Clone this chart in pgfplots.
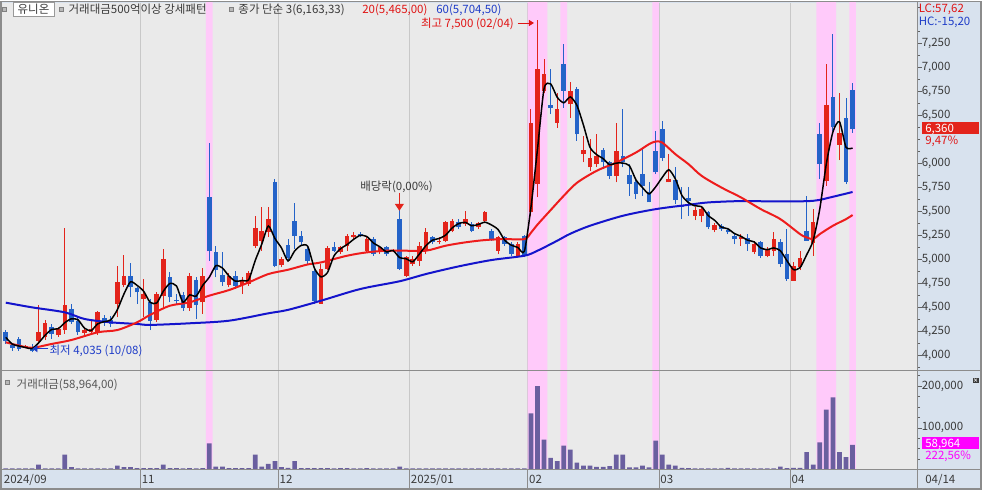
\documentclass[border=0pt]{standalone}
\usepackage{pgfplots}
\usepackage{pgfplotstable}
\pgfplotsset{compat=1.18}
\usepackage{fontspec}
\setmainfont{Noto Sans CJK KR}
\usetikzlibrary{arrows.meta}

\definecolor{plotBg}{HTML}{EAEAEA}
\definecolor{panelBg}{HTML}{D8E2EE}
\definecolor{gridC}{HTML}{C8C8C8}
\definecolor{frameC}{HTML}{8C8C8C}
\definecolor{upC}{HTML}{E3241B}
\definecolor{dnC}{HTML}{2463C8}
\definecolor{ma20C}{HTML}{EE1C1C}
\definecolor{ma60C}{HTML}{1414CC}
\definecolor{volC}{HTML}{6A5F9F}
\definecolor{hiliteC}{HTML}{FFCAFA}
\definecolor{txtC}{HTML}{3A3A3A}
\definecolor{redT}{HTML}{E01414}
\definecolor{blueT}{HTML}{1E3CC8}
\definecolor{magC}{HTML}{FF00FF}

\newcommand\tf{\fontsize{11.5}{13}\selectfont}

% rising days (red): index, open, high, low, close
\pgfplotstableread{
i O H L C
3 4085 4115 4075 4105
5 4156 4530 4140 4250
6 4191 4371 4163 4344
8 4215 4295 4198 4274
9 4271 5325 4226 4531
12 4236 4295 4219 4267
13 4243 4364 4219 4274
14 4243 4469 4219 4451
17 4538 4937 4399 4770
18 4739 5051 4711 4826
21 4590 4798 4399 4642
23 4371 4659 4347 4642
24 4625 5110 4486 5006
28 4496 4857 4469 4833
30 4555 4912 4434 4833
34 4739 4857 4711 4833
36 4739 4815 4642 4788
37 4746 4885 4729 4857
38 5145 5457 5121 5329
39 5197 5544 5093 5301
40 5284 5544 5239 5422
42 4940 5023 4919 5006
48 4538 4954 4538 4902
49 4902 5145 4890 5121
51 5076 5145 5058 5128
52 5145 5266 5093 5249
53 5232 5284 5214 5260
55 5093 5232 5076 5214
57 5076 5145 5058 5128
59 5086 5110 5076 5100
61 4833 5041 4815 5023
62 4954 5041 4937 5006
63 4989 5180 4937 5145
64 5093 5330 5058 5284
66 5180 5240 5160 5197
67 5197 5400 5180 5388
68 5301 5420 5284 5405
70 5370 5510 5353 5422
72 5336 5395 5318 5377
73 5405 5510 5388 5492
75 5093 5249 5058 5232
78 5041 5180 5023 5162
80 5492 6567 5450 6428
81 5787 7500 5648 6983
82 6758 7088 6740 6931
84 6428 6740 6376 6567
86 6620 6850 6480 6760
88 6098 6290 6012 6140
89 5960 6255 5925 6064
90 5995 6307 5960 6081
93 5873 6428 5804 6133
101 5804 6098 5804 5838
105 5457 5544 5412 5516
106 5457 5550 5388 5527
108 5308 5380 5284 5364
112 5214 5266 5145 5232
114 5076 5197 5058 5162
116 5041 5128 5023 5110
117 5093 5284 5041 5214
120 4781 4971 4781 4937
121 4926 5093 4891 5016
123 5169 5526 5041 5388
125 5821 7042 5769 6612
127 6196 6740 6036 6320
}\upk

% falling days (blue)
\pgfplotstableread{
i O H L C
0 4250 4262 4122 4150
1 4110 4125 4050 4080
2 4173 4190 4052 4070
4 4094 4120 4035 4045
7 4295 4330 4174 4226
10 4486 4538 4330 4347
11 4357 4399 4219 4243
15 4392 4427 4312 4337
16 4371 4413 4295 4330
19 4826 4961 4607 4711
20 4704 4711 4538 4659
22 4555 4590 4267 4364
25 4815 4867 4555 4607
26 4580 4642 4531 4566
27 4635 4659 4469 4496
29 4788 4815 4382 4531
31 5648 6210 4989 5086
32 5076 5145 4815 4891
33 4843 5076 4729 4763
35 4833 4885 4694 4729
41 5804 5839 4920 4937
43 5155 5214 4989 5016
44 5398 5585 5110 5249
45 5249 5301 5145 5180
46 5110 5145 4954 4989
47 4885 4920 4538 4572
50 5128 5180 5076 5093
54 5266 5284 5232 5249
56 5214 5232 5041 5058
58 5128 5145 5041 5058
60 5424 5530 4890 4904
65 5232 5249 5160 5180
69 5388 5420 5318 5336
71 5370 5388 5284 5301
74 5301 5318 5197 5214
76 5232 5249 5145 5162
77 5162 5180 5041 5058
79 5249 5260 5023 5041
83 6609 6983 6515 6578
85 7035 7245 6584 6758
87 6780 6800 6237 6306
91 6140 6168 5942 6012
92 6012 6029 5838 5873
94 6081 6567 5960 6012
95 5883 5995 5665 5793
96 5804 5838 5630 5689
97 5897 6168 5665 5769
98 5700 5804 5596 5596
99 6133 6341 5890 5908
100 6359 6445 6029 6064
102 5828 5967 5578 5620
103 5571 5758 5422 5550
104 5641 5752 5457 5613
107 5492 5510 5318 5336
109 5353 5370 5301 5318
110 5308 5318 5266 5284
111 5249 5266 5162 5214
113 5225 5266 5093 5162
115 5180 5197 5016 5041
118 5180 5214 4920 4954
119 5058 5318 4781 4798
122 5301 5665 5197 5197
124 6307 6428 5838 5995
126 6695 7347 6341 6383
128 6473 6688 5786 5810
129 6765 6844 6324 6360
}\dnk

% close, simple 3-day average
\pgfplotstableread{
i m
0 4190
1 4120
2 4100
3 4085
4 4073
5 4133
6 4213
7 4273
8 4281
9 4344
10 4384
11 4374
12 4286
13 4261
14 4331
15 4354
16 4373
17 4479
18 4642
19 4769
20 4732
21 4671
22 4555
23 4549
24 4671
25 4752
26 4726
27 4556
28 4632
29 4620
30 4732
31 4817
32 4937
33 4913
34 4829
35 4775
36 4783
37 4791
38 4991
39 5162
40 5351
41 5220
42 5122
43 4986
44 5090
45 5148
46 5139
47 4914
48 4821
49 4865
50 5039
51 5114
52 5157
53 5212
54 5253
55 5241
56 5174
57 5133
58 5081
59 5095
60 5021
61 5009
62 4978
63 5058
64 5145
65 5203
66 5220
67 5255
68 5330
69 5376
70 5388
71 5353
72 5367
73 5390
74 5361
75 5313
76 5203
77 5151
78 5127
79 5087
80 5544
81 6151
82 6781
83 6831
84 6692
85 6634
86 6695
87 6608
88 6402
89 6170
90 6095
91 6052
92 5989
93 6006
94 6006
95 5979
96 5831
97 5750
98 5685
99 5758
100 5856
101 5937
102 5841
103 5669
104 5594
105 5560
106 5552
107 5460
108 5409
109 5339
110 5322
111 5272
112 5243
113 5203
114 5185
115 5122
116 5104
117 5122
118 5093
119 4989
120 4896
121 4917
122 5050
123 5200
124 5527
125 5998
126 6330
127 6438
128 6171
129 6163
}\mathree

% traded value (million won)
\pgfplotstableread{
i v
0 3000
1 3000
2 2500
3 2500
4 3000
5 12000
6 3000
7 3000
8 3000
9 36000
10 5500
11 3000
12 3000
13 3000
14 3000
15 3000
16 3000
17 9600
18 5500
19 5500
20 3500
21 3500
22 3500
23 3500
24 12000
25 3500
26 3500
27 3000
28 3500
29 3000
30 3500
31 63000
32 7000
33 7000
34 3500
35 3500
36 3500
37 3500
38 36000
39 7000
40 13500
41 20000
42 5500
43 4000
44 20000
45 3500
46 3500
47 3500
48 3500
49 3500
50 3000
51 3500
52 3500
53 3000
54 3000
55 3500
56 3000
57 3000
58 3000
59 3000
60 7000
61 3000
62 3000
63 3000
64 3000
65 3000
66 3000
67 3000
68 3000
69 3000
70 3000
71 2500
72 3000
73 3000
74 3000
75 3000
76 3000
77 3000
78 2500
79 3000
80 135000
81 200000
82 72000
83 28000
84 20000
85 57500
86 48000
87 16800
88 9600
89 9600
90 6400
91 6400
92 8000
93 36000
94 36000
95 5000
96 5000
97 9600
98 5000
99 69500
100 36000
101 12000
102 9600
103 4000
104 3500
105 3000
106 3000
107 3000
108 3000
109 3000
110 4000
111 3000
112 3000
113 3000
114 2500
115 3000
116 3000
117 3000
118 7000
119 3500
120 4000
121 4000
122 41500
123 12000
124 65000
125 144000
126 173000
127 41500
128 29500
129 58964
}\vol

\begin{document}
\begin{tikzpicture}[x=1pt,y=1pt]
\fill[panelBg] (0,0) rectangle (982,489);
\fill[plotBg] (2,20) rectangle (918,487);
% month dividers
\foreach \gx in {140.0,278.0,409.4,527.7,659.1,790.5}
  \draw[gridC, line width=0.8pt] (\gx,20) -- (\gx,487);

\begin{axis}[
  at={(2pt,119pt)}, anchor=south west, scale only axis,
  width=916pt, height=368pt,
  xmin=-0.5, xmax=138.9, ymin=3844, ymax=7673.5,
  axis line style={draw=none},
  xtick=\empty,
  ytick={4000,4250,4500,4750,5000,5250,5500,5750,6000,6500,6750,7000,7250},
  minor ytick={3875,4125,4375,4625,4875,5125,5375,5625,5875,6125,6250,6375,6625,6875,7125,7375,7625},
  ytick pos=right, yticklabel pos=right, tick align=outside,
  major tick length=4pt, minor tick length=2.5pt,
  tick style={draw=txtC!80, line width=0.7pt},
  yticklabel style={anchor=west, inner sep=0pt, font=\tf, text=txtC},
  /pgf/number format/assume math mode=true,
  /pgf/number format/fixed,
  /pgf/number format/1000 sep={,},
]
\addplot[ybar, bar width=1, bar shift=0pt, fill=hiliteC, draw=none, forget plot]
  coordinates {(31,8000) (80,8000) (81,8000) (82,8000) (85,8000) (99,8000)
               (124,8000) (125,8000) (126,8000) (129,8000)};
% wicks
\addplot[draw=none, mark=none, forget plot,
  error bars/.cd, y dir=plus, y explicit, error mark=none,
  error bar style={draw=upC, line width=1pt}]
  table[x=i, y=L, y error plus expr=\thisrow{H}-\thisrow{L}] \upk;
\addplot[draw=none, mark=none, forget plot,
  error bars/.cd, y dir=plus, y explicit, error mark=none,
  error bar style={draw=dnC, line width=1pt}]
  table[x=i, y=L, y error plus expr=\thisrow{H}-\thisrow{L}] \dnk;
% bodies
\addplot[draw=none, mark=none, forget plot,
  error bars/.cd, y dir=plus, y explicit, error mark=none,
  error bar style={draw=upC, line width=4.6pt}]
  table[x=i, y=O, y error plus expr=\thisrow{C}-\thisrow{O}] \upk;
\addplot[draw=none, mark=none, forget plot,
  error bars/.cd, y dir=plus, y explicit, error mark=none,
  error bar style={draw=dnC, line width=4.6pt}]
  table[x=i, y=C, y error plus expr=\thisrow{O}-\thisrow{C}] \dnk;
% 60-day average
\addplot[ma60C, line width=2pt, smooth, tension=0.5] coordinates {
  (0,4552) (4,4503) (9,4451) (12,4382) (16,4347) (20,4330) (22,4320)
  (28,4337) (34,4364) (40,4441) (43,4477) (48,4572) (54,4694) (60,4775)
  (64,4850) (69,4930) (74,4996) (79,5041) (81,5093) (84,5197) (86,5270)
  (89,5353) (94,5457) (99,5526) (104,5571) (107,5596) (112,5610)
  (118,5606) (123,5613) (126,5655) (129,5705)};
% 20-day average
\addplot[ma20C, line width=2pt, smooth, tension=0.5] coordinates {
  (0,4139) (2,4105) (4,4082) (7,4122) (10,4163) (14,4243) (17,4267)
  (20,4347) (22,4425) (25,4520) (28,4555) (31,4625) (34,4683) (37,4763)
  (40,4850) (43,4895) (46,4950) (48,4971) (52,5041) (55,5076) (58,5093)
  (61,5093) (64,5093) (67,5145) (70,5180) (73,5204) (76,5214) (79,5214)
  (80,5280) (81,5365) (83,5516) (85,5665) (87,5800) (90,5925) (93,6012)
  (96,6116) (98,6203) (99,6230) (100,6220) (102,6099) (104,5995)
  (106,5873) (109,5752) (112,5648) (115,5527) (118,5422) (121,5266)
  (122,5232) (123,5214) (124,5266) (126,5353) (128,5422) (129,5465)};
% 3-day average
\addplot[black, line width=1.5pt, smooth, tension=0.4] table[x=i, y=m] \mathree;
\end{axis}

\begin{axis}[
  at={(2pt,20pt)}, anchor=south west, scale only axis,
  width=916pt, height=98pt,
  xmin=-0.5, xmax=138.9, ymin=0, ymax=235000,
  axis line style={draw=none},
  xtick=\empty,
  ytick={100000,200000},
  minor ytick={25000,50000,...,225000},
  scaled y ticks=false,
  ytick pos=right, yticklabel pos=right, tick align=outside,
  major tick length=4pt, minor tick length=2.5pt,
  tick style={draw=txtC!80, line width=0.7pt},
  yticklabel style={anchor=west, inner sep=0pt, font=\tf, text=txtC},
  /pgf/number format/assume math mode=true,
  /pgf/number format/fixed,
  /pgf/number format/1000 sep={,},
]
\addplot[ybar, bar width=1, bar shift=0pt, fill=hiliteC, draw=none, forget plot]
  coordinates {(31,240000) (80,240000) (81,240000) (82,240000) (85,240000)
               (99,240000) (124,240000) (125,240000) (126,240000) (129,240000)};
\addplot[ybar, bar width=0.72, bar shift=0pt, fill=volC, draw=none]
  table[x=i, y=v] \vol;
\end{axis}

% frame and dividers
\draw[frameC, line width=1.5pt] (0.75,0.75) rectangle (981.25,488.25);
\draw[frameC, line width=2pt] (1,0) -- (1,489);
\draw[frameC, line width=1pt] (0,119) -- (982,119);
\draw[frameC, line width=1pt] (0,20) -- (982,20);
\draw[frameC, line width=1pt] (918,0) -- (918,489);
\foreach \gx in {140.0,278.0,409.4,527.7,659.1,790.5}
  \draw[frameC, line width=0.8pt] (\gx,2) -- (\gx,20);

% date strip
\begin{scope}[every node/.style={font=\tf, text=txtC, inner sep=0pt, anchor=base west}]
\node at (3.3,6) {2024/09};
\node at (141.3,6) {11};
\node at (279.3,6) {12};
\node at (410.7,6) {2025/01};
\node at (529.0,6) {02};
\node at (660.4,6) {03};
\node at (791.8,6) {04};
\node at (925.5,6) {04/14};
\end{scope}

% top legend
\fill[gray!55, draw=gray] (2,479) rectangle (6,483);
\draw[fill=white, draw=gray!80] (12.7,474) rectangle (53.3,488);
\node[font=\tf, text=txtC, inner sep=0pt] at (33,481) {유니온};
\fill[gray!55, draw=gray] (58.7,479) rectangle (62.7,483);
\fill[gray!55, draw=gray] (229,479) rectangle (233,483);
\begin{scope}[every node/.style={font=\tf, inner sep=0pt, anchor=base west}]
\node[text=txtC] at (68,476) {거래대금500억이상 강세패턴};
\node[text=txtC] at (238,476) {종가 단순 3(6,163,33)};
\node[text=redT] at (362,476) {20(5,465,00)};
\node[text=blueT] at (436,476) {60(5,704,50)};
\node[text=redT] at (919,477.5) {LC:57,62};
\node[text=blueT] at (919,464.5) {HC:-15,20};
\node[text=redT, anchor=base east] at (514,462.5) {최고 7,500 (02/04)};
\node[text=blueT] at (49,135.5) {최저 4,035 (10/08)};
\node[text=txtC] at (360,299.5) {배당락(0,00\%)};
\end{scope}
\draw[redT, line width=0.9pt, -{Triangle[width=6pt,length=5pt]}] (518,467) -- (534,467);
\draw[blueT, line width=0.9pt, -{Triangle[width=7pt,length=5pt]}] (48,141) -- (32,141);
\draw[upC, line width=1pt, -{Triangle[width=9pt,length=7pt]}] (399.3,297) -- (399.3,279);

% right-hand value boxes
\fill[upC] (922.3,355.7) rectangle (979.3,368);
\node[font=\tf, text=white, inner sep=0pt, anchor=base west] at (925.5,357.8) {6,360};
\node[font=\tf, text=redT, inner sep=0pt, anchor=base west] at (925.5,345.2) {9,47\%};
\fill[magC] (922.3,40.7) rectangle (979.3,52.3);
\node[font=\tf, text=white, inner sep=0pt, anchor=base west] at (925.5,42.2) {58,964};
\node[font=\tf, text=magC, inner sep=0pt, anchor=base west] at (925.5,30) {222,56\%};
\fill[txtC] (973,107) rectangle (979,112);
\draw[white, line width=0.5pt] (974.5,108) -- (977.5,111) (974.5,111) -- (977.5,108);

% volume label
\fill[gray!55, draw=gray] (5,105) rectangle (9,109);
\node[font=\tf, text=txtC!85, inner sep=0pt, anchor=base west] at (16,101) {거래대금(58,964,00)};
\end{tikzpicture}
\end{document}
